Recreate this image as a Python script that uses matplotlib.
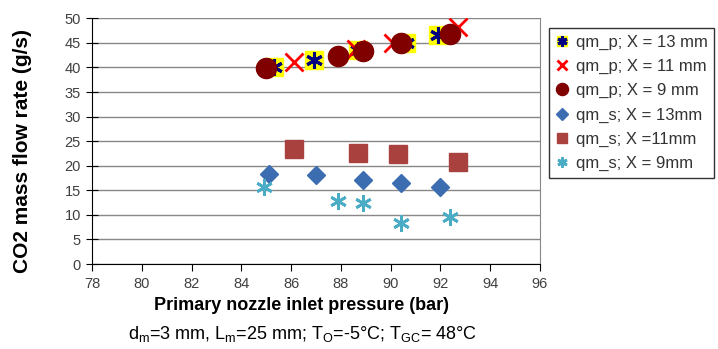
"""CO2 mass flow rate vs primary nozzle inlet pressure."""

import matplotlib

matplotlib.use("Agg")

import matplotlib.pyplot as plt

# qm_p series (primary flow)
p_13_x = [85.3, 86.9, 88.7, 90.6, 91.9]
p_13_y = [40.1, 41.5, 43.5, 45.0, 46.5]
p_11_x = [86.1, 88.6, 90.1, 92.7]
p_11_y = [41.1, 43.8, 45.0, 48.2]
p_9_x = [85.0, 87.9, 88.9, 90.4, 92.4]
p_9_y = [39.8, 42.3, 43.4, 45.0, 46.9]

# qm_s series (secondary flow)
s_13_x = [85.1, 87.0, 88.9, 90.4, 92.0]
s_13_y = [18.4, 18.1, 17.1, 16.4, 15.7]
s_11_x = [86.1, 88.7, 90.3, 92.7]
s_11_y = [23.5, 22.6, 22.4, 20.8]
s_9_x = [84.9, 87.9, 88.9, 90.4, 92.4]
s_9_y = [15.7, 12.8, 12.5, 8.3, 9.6]

labels = [
    "qm_p; X = 13 mm",
    "qm_p; X = 11 mm",
    "qm_p; X = 9 mm",
    "qm_s; X = 13mm",
    "qm_s; X =11mm",
    "qm_s; X = 9mm",
]

x_ticks = list(range(78, 97, 2))
y_ticks = list(range(0, 51, 5))

plt.rcParams["font.family"] = ["Liberation Sans", "DejaVu Sans"]
W, H = 718, 349
fig = plt.figure(figsize=(W / 100, H / 100), dpi=100)
ax = fig.add_axes([92 / W, 1 - 264 / H, 448 / W, 245.7 / H])

asterisk = (6, 2, 0)

h_sq = ax.plot(p_13_x, p_13_y, ls="none", marker="s", ms=13, mfc="#ffff00", mec="#ffff00")[0]
h_st = ax.plot(p_13_x, p_13_y, ls="none", marker=asterisk, ms=12, mec="#000080", mew=2.2)[0]
h_x = ax.plot(p_11_x, p_11_y, ls="none", marker="x", ms=13, mec="#ff0000", mew=2)[0]
h_c = ax.plot(p_9_x, p_9_y, ls="none", marker="o", ms=14.5, mfc="#800000", mec="#800000")[0]
h_d = ax.plot(s_13_x, s_13_y, ls="none", marker="D", ms=9.5, mfc="#3c6db0", mec="#3c6db0")[0]
h_s = ax.plot(s_11_x, s_11_y, ls="none", marker="s", ms=13, mfc="#a9423f", mec="#a9423f")[0]
h_t = ax.plot(s_9_x, s_9_y, ls="none", marker=asterisk, ms=12, mec="#4bacc6", mew=2)[0]

ax.set_xlim(78, 96)
ax.set_ylim(0, 50)
ax.set_xticks(x_ticks)
ax.set_yticks(y_ticks)
ax.tick_params(axis="x", direction="out", length=5, labelsize=10.5, labelcolor="#404040", pad=4)
ax.tick_params(axis="y", direction="inout", length=8, labelsize=10.5, labelcolor="#404040", pad=4)
ax.yaxis.grid(True, color="#888888", lw=1)
ax.set_axisbelow(True)
ax.spines["top"].set_visible(False)
ax.spines["right"].set_color("#888888")
for side in ("left", "bottom"):
    ax.spines[side].set_color("black")

ax.set_ylabel("CO2 mass flow rate (g/s)", fontsize=15, fontweight="bold")
ax.yaxis.set_label_coords(-0.135, 0.46)

fig.text(302 / W, 1 - 306 / H, "Primary nozzle inlet pressure (bar)", ha="center", va="center",
         fontsize=13, fontweight="bold")
fig.text(303 / W, 1 - 334 / H,
         r"d$_\mathregular{m}$=3 mm, L$_\mathregular{m}$=25 mm; T$_\mathregular{O}$=-5°C; "
         r"T$_\mathregular{GC}$= 48°C",
         ha="center", va="center", fontsize=13)

leg = fig.legend(
    [(h_sq, h_st), h_x, h_c, h_d, h_s, h_t], labels,
    loc="upper left", bbox_to_anchor=(549 / W, 1 - 28 / H),
    fontsize=12, frameon=True, fancybox=False, borderaxespad=0,
    handlelength=0.8, handletextpad=0.4, labelspacing=0.55, markerscale=0.6,
    borderpad=0.4,
)
leg.get_frame().set_edgecolor("black")
leg.get_frame().set_linewidth(1)
for t in leg.get_texts():
    t.set_color("#333333")

fig.savefig("out.png", dpi=100)
plt.close(fig)
